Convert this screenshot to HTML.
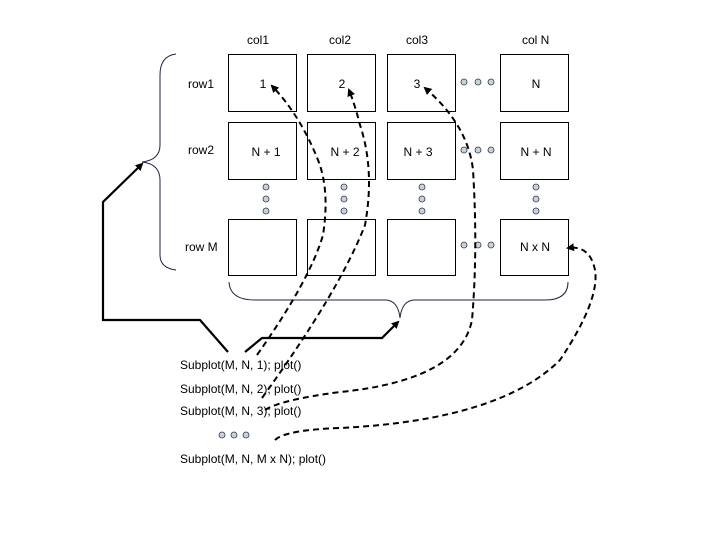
<!DOCTYPE html>
<html><head><style>
body{margin:0;background:#fff;}
svg text{font-family:"Liberation Sans",sans-serif;font-size:12px;fill:#000;}
</style></head><body>
<svg width="720" height="540" viewBox="0 0 720 540" xmlns="http://www.w3.org/2000/svg">
<defs>
<marker id="ah" markerWidth="8" markerHeight="8" refX="6" refY="4" orient="auto" markerUnits="userSpaceOnUse">
<path d="M0,0 L8,4 L0,8 Z" fill="#000"/>
</marker>
</defs>
<g fill="#fff" stroke="#000" stroke-width="1">
<rect x="228.5" y="54.5" width="68" height="57"/>
<rect x="307.5" y="54.5" width="68" height="57"/>
<rect x="387.5" y="54.5" width="68" height="57"/>
<rect x="500.5" y="54.5" width="68" height="57"/>
<rect x="228.5" y="122.5" width="68" height="57"/>
<rect x="307.5" y="122.5" width="68" height="57"/>
<rect x="387.5" y="122.5" width="68" height="57"/>
<rect x="500.5" y="122.5" width="68" height="57"/>
<rect x="228.5" y="219.5" width="68" height="56"/>
<rect x="307.5" y="219.5" width="68" height="56"/>
<rect x="387.5" y="219.5" width="68" height="56"/>
<rect x="500.5" y="219.5" width="68" height="56"/>
</g>
<text x="247" y="44">col1</text><text x="329" y="44">col2</text><text x="406" y="44">col3</text><text x="522" y="44">col N</text>
<text x="188" y="88">row1</text><text x="188" y="154">row2</text><text x="185" y="251">row M</text>
<g text-anchor="middle">
<text x="263" y="88">1</text><text x="342" y="88">2</text><text x="417" y="88">3</text><text x="536" y="88">N</text>
<text x="266" y="156">N + 1</text><text x="345" y="156">N + 2</text><text x="418" y="156">N + 3</text><text x="536" y="156">N + N</text>
<text x="535" y="251">N x N</text>
</g>
<g fill="#c8d4d0" stroke="#335" stroke-width="0.8">
<circle cx="464" cy="82" r="3"/><circle cx="478" cy="82" r="3"/><circle cx="491" cy="82" r="3"/>
<circle cx="464" cy="150" r="3"/><circle cx="478" cy="150" r="3"/><circle cx="491" cy="150" r="3"/>
<circle cx="464" cy="245" r="3"/><circle cx="478" cy="245" r="3"/><circle cx="491" cy="245" r="3"/>
<circle cx="266" cy="187" r="3"/><circle cx="266" cy="199" r="3"/><circle cx="266" cy="211" r="3"/>
<circle cx="344" cy="187" r="3"/><circle cx="344" cy="199" r="3"/><circle cx="344" cy="211" r="3"/>
<circle cx="422" cy="187" r="3"/><circle cx="422" cy="199" r="3"/><circle cx="422" cy="211" r="3"/>
<circle cx="536" cy="187" r="3"/><circle cx="536" cy="199" r="3"/><circle cx="536" cy="211" r="3"/>
<circle cx="222" cy="435" r="3"/><circle cx="234" cy="435" r="3"/><circle cx="246" cy="435" r="3"/>
</g>
<g fill="none" stroke="#224" stroke-width="1">
<path d="M176,54 Q160,56 160,75 L160,145 Q160,160 142,162 Q160,164 160,180 L160,255 Q160,268 176,270"/>
<path d="M229,282 Q230,300 255,300 L385,300 Q398,300 400,318 Q402,300 415,300 L545,300 Q568,300 568,282"/>
</g>
<g fill="none" stroke="#000" stroke-width="2.2">
<path d="M228,352 L200,320 L103,320 L103,202 L142,164" marker-end="url(#ah)"/>
<path d="M245,352 L262,338 L382,338 L398,322" marker-end="url(#ah)"/>
</g>
<g fill="none" stroke="#000" stroke-width="2" stroke-dasharray="6,4">
<path d="M257,355 Q310,280 323,235 Q330,190 318,160 Q300,115 272,86" marker-end="url(#ah)"/>
<path d="M262,398 Q340,290 365,225 Q375,170 360,125 Q355,105 349,90" marker-end="url(#ah)"/>
<path d="M265,410 Q280,400 340,392 Q460,380 472,320 Q478,250 473,170 Q468,125 425,88" marker-end="url(#ah)"/>
<path d="M275,440 Q285,430 340,428 Q500,420 560,360 Q600,300 595,270 Q590,245 568,248" marker-end="url(#ah)"/>
</g>
<text x="180" y="369">Subplot(M, N, 1); plot()</text>
<text x="180" y="393">Subplot(M, N, 2); plot()</text>
<text x="180" y="415">Subplot(M, N, 3); plot()</text>
<text x="180" y="463">Subplot(M, N, M x N); plot()</text>
</svg>
</body></html>
